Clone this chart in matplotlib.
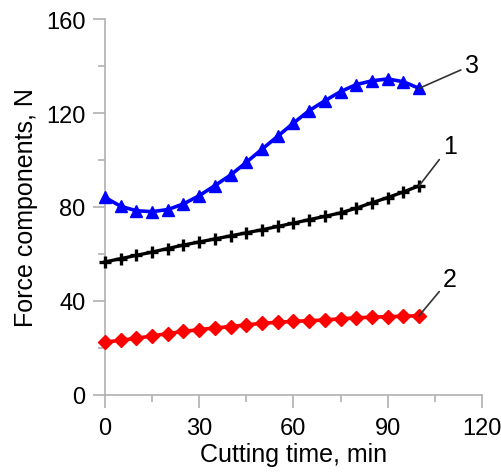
import matplotlib
matplotlib.use("Agg")
import matplotlib.pyplot as plt
from matplotlib.ticker import MultipleLocator

plt.rcParams['font.family'] = ['Liberation Sans', 'DejaVu Sans']

time_min = [0, 5, 10, 15, 20, 25, 30, 35, 40, 45, 50, 55, 60, 65, 70, 75, 80, 85, 90, 95, 100]
force_1 = [56.6, 58.0, 59.4, 60.8, 62.3, 63.8, 65.1, 66.4, 67.7, 69.0, 70.3, 71.7, 73.1, 74.6, 76.0, 77.5, 79.5, 81.8, 84.0, 86.4, 89.0]
force_2 = [22.4, 23.3, 24.1, 25.1, 26.1, 27.0, 27.8, 28.5, 29.1, 29.8, 30.5, 30.9, 31.3, 31.6, 31.9, 32.4, 32.8, 33.1, 33.3, 33.5, 33.7]
force_3 = [84.1, 80.3, 78.4, 78.0, 78.9, 81.3, 84.8, 89.1, 93.6, 99.0, 104.6, 110.1, 115.7, 121.0, 125.2, 129.1, 132.1, 133.7, 134.5, 133.3, 130.5]
labels = ["1", "2", "3"]

fig = plt.figure(figsize=(5.02, 4.77), dpi=100)
ax = fig.add_axes([0.209, 0.170, 0.751, 0.788])

ax.plot(time_min, force_3, color='#0000ff', lw=2.6, marker='^', ms=9, zorder=3)
ax.plot(time_min, force_1, color='#000000', lw=2.4, marker='+', ms=9, mew=2.4, zorder=3)
ax.plot(time_min, force_2, color='#ff0000', lw=2.6, marker='D', ms=7.5, zorder=3)

gray = '#b0b0b0'
ax.set_xlim(0, 120)
ax.set_ylim(0, 160)
ax.xaxis.set_major_locator(MultipleLocator(30))
ax.xaxis.set_minor_locator(MultipleLocator(15))
ax.yaxis.set_major_locator(MultipleLocator(40))
ax.yaxis.set_minor_locator(MultipleLocator(20))
for s in ['top', 'right']:
    ax.spines[s].set_visible(False)
for s in ['left', 'bottom']:
    ax.spines[s].set_color(gray)
    ax.spines[s].set_linewidth(1.2)
ax.tick_params(which='major', direction='out', length=9, width=1.2, color=gray, labelsize=17, pad=5)
ax.tick_params(which='minor', direction='out', length=5, width=1.2, color=gray)
ax.tick_params(axis='x', which='major', pad=7)
for line in ax.lines:
    line.set_clip_on(False)

ax.set_xlabel('Cutting time, min', fontsize=18, labelpad=2)
ax.set_ylabel('Force components, N', fontsize=18, labelpad=6)

ann = dict(arrowstyle='-', color='#333333', lw=1.2, shrinkA=1, shrinkB=0)
ax.annotate(labels[0], xy=(time_min[-1], force_1[-1]), xytext=(109.8, 106), fontsize=18,
            ha='center', va='center', arrowprops=ann)
ax.annotate(labels[1], xy=(time_min[-1], force_2[-1]), xytext=(109.8, 49.4), fontsize=18,
            ha='center', va='center', arrowprops=ann)
ax.annotate(labels[2], xy=(time_min[-1], force_3[-1]), xytext=(116.8, 140.4), fontsize=18,
            ha='center', va='center', arrowprops=ann)

fig.savefig('out.png', dpi=100)
